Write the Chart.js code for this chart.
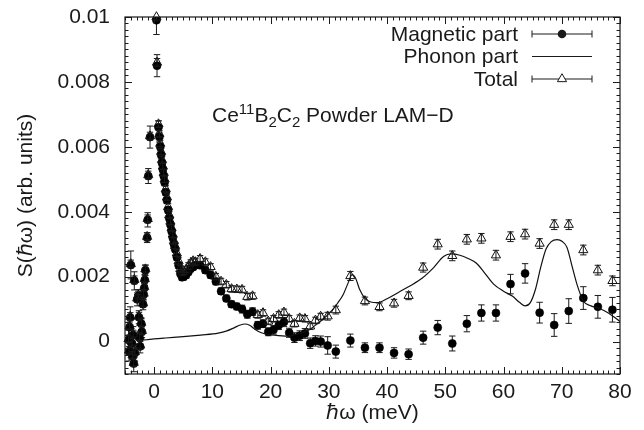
<!DOCTYPE html>
<html>
<head>
<meta charset="utf-8">
<script src="https://cdn.jsdelivr.net/npm/chart.js@4.4.0/dist/chart.umd.min.js"></script>
<style>
  html, body { margin: 0; padding: 0; background: #fff; }
  #wrap { width: 644px; height: 430px; }
</style>
</head>
<body>
<div id="wrap"><canvas id="chart" width="644" height="430"></canvas></div>
<script>
// S(hw) values are written in units of 1e-3
const Y_UNIT = 1e-3;

// energy transfer (meV), shared by the magnetic and total points
const energy = [
  -4.4, -4.3, -4.2, -4.1, -4.0, -3.8, -3.7, -3.6, -3.5, -3.4, -3.3, -2.9, -2.7, -2.6,
  -2.5, -2.4, -2.2, -2.1, -1.9, -1.8, -1.7, -1.6, -1.5, -1.2, -1.1, -1.0, -0.7,
  0.4, 0.5, 0.75, 0.9, 1.05, 1.2, 1.35, 1.5, 1.65, 1.8, 2.0, 2.2, 2.4, 2.6, 2.8, 3.0,
  3.2, 3.4, 3.6, 3.9, 4.2, 4.5, 4.8, 5.1, 5.5, 5.9, 6.3, 6.7,
  7.1, 7.9, 8.8, 9.7, 10.6, 11.5, 12.4, 13.3, 14.2, 15.1, 16.0, 16.9, 17.8, 18.7,
  19.6, 20.5, 21.4, 22.3, 23.2, 24.1, 25.0, 25.9, 26.8, 27.7, 28.6, 29.8,
  31.2, 33.7, 36.2, 38.7, 41.2, 43.7, 46.2, 48.7, 51.2, 53.7, 56.2, 58.7, 61.2, 63.7,
  66.2, 68.7, 71.2, 73.7, 76.2, 78.7
];

const magnetic = [
  0.05, -0.3, 0.45, 0.74, 2.36, -0.05, -0.45, 0.2, -0.68, 1.87, -0.35, 1.3, 1.4, 0.75,
  0.12, -0.15, 0.55, 0.3, 1.15, 1.45, 1.65, 1.9, 2.2, 3.2, 3.75, 5.1, 6.3,
  9.9, 8.5, 6.6, 6.3, 6.0, 5.75, 5.5, 5.3, 5.1, 4.9, 4.6, 4.35, 4.05, 3.8, 3.6, 3.4,
  3.2, 3.0, 2.85, 2.6, 2.35, 2.1, 1.98, 2.0, 2.05, 2.15, 2.25, 2.3,
  2.35, 2.35, 2.2, 2.05, 1.85, 1.55, 1.33, 1.15, 1.08, 1.0, 0.84, 0.92, 0.5, 0.55,
  0.3, 0.36, 0.5, 0.6, 0.27, 0.12, 0.18, 0.25, -0.05, 0.02, 0.0, -0.12,
  -0.31, 0.03, -0.19, -0.19, -0.35, -0.39, 0.12, 0.43, -0.06, 0.55, 0.88, 0.88, 1.77, 2.1,
  0.89, 0.51, 0.94, 1.34, 1.07, 0.98
];

const magneticErr = [
  0.3, 0.3, 0.3, 0.33, 0.43, 0.28, 0.28, 0.26, 0.25, 0.28, 0.25, 0.2, 0.2, 0.2,
  0.2, 0.2, 0.18, 0.18, 0.17, 0.17, 0.16, 0.16, 0.16, 0.15, 0.22, 0.23, 0.34,
  0.44, 0.34, 0.2, 0.15, 0.12, 0.12, 0.1, 0.1, 0.1, 0.1, 0.1, 0.1, 0.1, 0.1, 0.1, 0.1,
  0.1, 0.1, 0.1, 0.1, 0.1, 0.1, 0.1, 0.1, 0.1, 0.1, 0.1, 0.1,
  0.1, 0.1, 0.1, 0.1, 0.1, 0.1, 0.1, 0.1, 0.1, 0.12, 0.12, 0.12, 0.12, 0.12,
  0.12, 0.13, 0.13, 0.14, 0.14, 0.15, 0.15, 0.15, 0.16, 0.16, 0.17, 0.27,
  0.2, 0.2, 0.15, 0.15, 0.16, 0.16, 0.2, 0.22, 0.23, 0.25, 0.25, 0.25, 0.3, 0.3,
  0.32, 0.35, 0.38, 0.35, 0.35, 0.38
];

const total = [
  0.08, -0.27, 0.48, 0.77, 2.39, -0.02, -0.42, 0.23, -0.65, 1.9, -0.32, 1.33, 1.43, 0.78,
  0.15, -0.12, 0.58, 0.33, 1.18, 1.48, 1.68, 1.93, 2.23, 3.23, 3.78, 5.13, 6.33,
  10.0, 8.6, 6.7, 6.4, 6.1, 5.85, 5.6, 5.4, 5.2, 5.0, 4.7, 4.45, 4.15, 3.9, 3.7, 3.5,
  3.3, 3.1, 2.95, 2.72, 2.48, 2.24, 2.13, 2.16, 2.22, 2.33, 2.42, 2.48,
  2.45, 2.55, 2.45, 2.3, 2.0, 1.85, 1.75, 1.62, 1.61, 1.6, 1.38, 1.4, 0.82, 0.88,
  0.62, 0.7, 0.82, 0.9, 0.7, 0.55, 0.72, 0.7, 0.47, 0.65, 0.77, 0.78,
  0.97, 2.02, 1.25, 1.07, 1.18, 1.41, 2.28, 3.0, 2.64, 3.15, 3.18, 2.66, 3.23, 3.31,
  3.02, 3.6, 3.6, 2.82, 2.2, 1.87
];

const totalErr = [
  0.12, 0.12, 0.12, 0.12, 0.12, 0.12, 0.12, 0.12, 0.12, 0.12, 0.12, 0.12, 0.12, 0.12,
  0.12, 0.12, 0.12, 0.12, 0.12, 0.12, 0.12, 0.12, 0.12, 0.12, 0.12, 0.12, 0.12,
  0.12, 0.12, 0.1, 0.1, 0.1, 0.1, 0.1, 0.1, 0.1, 0.1, 0.1, 0.1, 0.1, 0.1, 0.1, 0.1,
  0.1, 0.1, 0.1, 0.1, 0.1, 0.1, 0.1, 0.1, 0.1, 0.1, 0.1, 0.1,
  0.1, 0.1, 0.1, 0.1, 0.1, 0.1, 0.1, 0.1, 0.1, 0.1, 0.1, 0.1, 0.1, 0.1,
  0.1, 0.1, 0.1, 0.1, 0.1, 0.1, 0.1, 0.1, 0.1, 0.1, 0.1, 0.12,
  0.12, 0.14, 0.12, 0.12, 0.12, 0.12, 0.14, 0.15, 0.15, 0.15, 0.15, 0.15, 0.15, 0.15,
  0.15, 0.15, 0.15, 0.15, 0.15, 0.15
];

// calculated phonon contribution
const phononEnergy = [
  -2.5, 0, 2, 5, 8, 11, 12.5, 13.8, 14.8, 15.6, 16.4, 17.3, 18.3, 19.5, 21, 22.5, 24,
  25.5, 26.8, 28, 29.2, 30.5, 31.5, 32.5, 33.3, 34.0, 34.6, 35.3, 36.2, 37.2, 38.3, 40,
  42, 44, 46, 48, 49.7, 51, 52.5, 54, 55.3, 56.6, 58.3, 60, 61.5, 62.8, 63.7, 64.6, 65.5,
  66.4, 67.3, 68.2, 69.2, 70.1, 70.9, 71.8, 72.6, 73.7, 75, 76.5, 78, 80
];
const phonon = [
  0.03, 0.08, 0.11, 0.15, 0.2, 0.26, 0.33, 0.43, 0.51, 0.54, 0.5, 0.38, 0.28, 0.22, 0.19,
  0.17, 0.2, 0.28, 0.38, 0.55, 0.72, 0.95, 1.18, 1.46, 1.8, 2.06, 1.95, 1.6, 1.33, 1.22,
  1.2, 1.32, 1.52, 1.72, 1.95, 2.28, 2.62, 2.7, 2.66, 2.55, 2.42, 2.15, 1.77, 1.55, 1.4,
  1.2, 1.1, 1.2, 1.62, 2.3, 2.85, 3.08, 3.14, 3.08, 2.9, 2.3, 1.77, 1.25, 1.1, 1.02, 0.88,
  0.62
];

const xTicks = [0, 10, 20, 30, 40, 50, 60, 70, 80];
const xTickLabels = ['0', '10', '20', '30', '40', '50', '60', '70', '80'];
const yTicks = [0, 0.002, 0.004, 0.006, 0.008, 0.01];
const yTickLabels = ['0', '0.002', '0.004', '0.006', '0.008', '0.01'];

const seriesLabels = ['Magnetic part', 'Phonon part', 'Total'];

const FONT = '"Liberation Sans", Arial, Helvetica, sans-serif';
const INK = '#1a1a1a';

const toPoints = (xs, ys) => xs.map((x, i) => ({ x: x, y: ys[i] * Y_UNIT }));

// vertical error bars with caps, drawn from the dataset's errors list
function drawErrorBars(chart, ds) {
  const { ctx, chartArea, scales } = chart;
  const cap = 3.2;
  ctx.save();
  ctx.beginPath();
  ctx.rect(chartArea.left, chartArea.top, chartArea.right - chartArea.left, chartArea.bottom - chartArea.top);
  ctx.clip();
  ctx.strokeStyle = INK;
  ctx.lineWidth = 1;
  ctx.beginPath();
  ds.data.forEach((p, i) => {
    const e = ds.errors[i] * Y_UNIT;
    const px = scales.x.getPixelForValue(p.x);
    const lo = scales.y.getPixelForValue(p.y - e);
    const hi = scales.y.getPixelForValue(p.y + e);
    ctx.moveTo(px, lo); ctx.lineTo(px, hi);
    ctx.moveTo(px - cap, lo); ctx.lineTo(px + cap, lo);
    ctx.moveTo(px - cap, hi); ctx.lineTo(px + cap, hi);
  });
  ctx.stroke();
  ctx.restore();
}

const errorBarPlugin = {
  id: 'errorBars',
  beforeDatasetsDraw(chart) {
    const ds = chart.data.datasets[0];
    drawErrorBars(chart, ds);
  },
  afterDatasetsDraw(chart) {
    const ds = chart.data.datasets[2];
    drawErrorBars(chart, ds);
  }
};

// closed frame with inward major/minor ticks on all four sides
const framePlugin = {
  id: 'frame',
  afterDatasetsDraw(chart) {
    const { ctx, chartArea: a, scales: { x, y } } = chart;
    ctx.save();
    ctx.strokeStyle = INK;
    ctx.lineWidth = 1.2;
    ctx.strokeRect(a.left, a.top, a.right - a.left, a.bottom - a.top);
    ctx.lineWidth = 1;
    ctx.beginPath();
    for (let k = -5; k <= 80; k++) {
      const px = Math.round(x.getPixelForValue(k)) + 0.5;
      const len = k % 10 === 0 ? 7 : 3.5;
      ctx.moveTo(px, a.bottom); ctx.lineTo(px, a.bottom - len);
      ctx.moveTo(px, a.top); ctx.lineTo(px, a.top + len);
    }
    for (let k = -5; k <= 50; k++) {
      const py = Math.round(y.getPixelForValue(k * 0.0002)) + 0.5;
      const len = k % 10 === 0 ? 7 : 3.5;
      ctx.moveTo(a.left, py); ctx.lineTo(a.left + len, py);
      ctx.moveTo(a.right, py); ctx.lineTo(a.right - len, py);
    }
    ctx.stroke();
    ctx.restore();
  }
};

// gnuplot-style key (text on the left, sample on the right) and the sample label
const keyPlugin = {
  id: 'key',
  afterDraw(chart) {
    const { ctx } = chart;
    const textRight = 518, x0 = 532, x1 = 592, xm = 562;
    const rows = [34, 56.5, 79];
    ctx.save();
    ctx.fillStyle = INK;
    ctx.strokeStyle = INK;
    ctx.font = '21px ' + FONT;
    ctx.textAlign = 'right';
    ctx.textBaseline = 'middle';
    seriesLabels.forEach((t, i) => ctx.fillText(t, textRight, rows[i] + 1));

    ctx.lineWidth = 1;
    ctx.beginPath();
    [0, 2].forEach((i) => {
      const yy = rows[i];
      ctx.moveTo(x0, yy); ctx.lineTo(x1, yy);
      ctx.moveTo(x0, yy - 3.5); ctx.lineTo(x0, yy + 3.5);
      ctx.moveTo(x1, yy - 3.5); ctx.lineTo(x1, yy + 3.5);
    });
    ctx.stroke();
    ctx.lineWidth = 1.2;
    ctx.beginPath();
    ctx.moveTo(x0, rows[1]); ctx.lineTo(x1, rows[1]);
    ctx.stroke();

    ctx.beginPath();
    ctx.arc(xm, rows[0], 4.3, 0, Math.PI * 2);
    ctx.fill();

    const r = 5.3, ty = rows[2];
    ctx.fillStyle = '#fff';
    ctx.lineWidth = 1;
    ctx.beginPath();
    ctx.moveTo(xm, ty - r);
    ctx.lineTo(xm + r * Math.sin(2 * Math.PI / 3), ty - r * Math.cos(2 * Math.PI / 3));
    ctx.lineTo(xm + r * Math.sin(4 * Math.PI / 3), ty - r * Math.cos(4 * Math.PI / 3));
    ctx.closePath();
    ctx.fill();
    ctx.stroke();

    // Ce11B2C2 Powder LAM-D
    ctx.fillStyle = INK;
    ctx.textAlign = 'left';
    ctx.textBaseline = 'alphabetic';
    const base = 122;
    const parts = [
      ['Ce', 21, 0], ['11', 15, -8], ['B', 21, 0], ['2', 15, 5], ['C', 21, 0], ['2', 15, 5],
      [' Powder LAM\u2212D', 21, 0]
    ];
    let cx = 212;
    parts.forEach(([s, size, dy]) => {
      ctx.font = size + 'px ' + FONT;
      ctx.fillText(s, cx, base + dy);
      cx += ctx.measureText(s).width;
    });
    ctx.restore();
  }
};

// keep the plot box fixed: no extra room for overhanging end labels
function fixBox(scale, key, size) {
  scale[key] = size;
  scale.paddingTop = 0;
  scale.paddingBottom = 0;
  scale.paddingLeft = 0;
  scale.paddingRight = 0;
}

new Chart(document.getElementById('chart'), {
  type: 'scatter',
  data: {
    datasets: [
      {
        label: seriesLabels[0],
        data: toPoints(energy, magnetic),
        errors: magneticErr,
        pointStyle: 'circle',
        pointRadius: 4,
        pointBorderWidth: 0.6,
        backgroundColor: '#000',
        borderColor: '#000',
        order: 3
      },
      {
        label: seriesLabels[1],
        data: toPoints(phononEnergy, phonon),
        showLine: true,
        cubicInterpolationMode: 'monotone',
        pointRadius: 0,
        borderColor: '#111',
        borderWidth: 1.2,
        order: 2
      },
      {
        label: seriesLabels[2],
        data: toPoints(energy, total),
        errors: totalErr,
        pointStyle: 'triangle',
        pointRadius: 5.3,
        pointBorderWidth: 1,
        backgroundColor: 'rgba(255,255,255,0)',
        borderColor: '#111',
        clip: 8,
        order: 1
      }
    ]
  },
  options: {
    responsive: false,
    animation: false,
    devicePixelRatio: 1,
    layout: { padding: { top: 17, right: 24, left: 0, bottom: 0 } },
    plugins: { legend: { display: false }, tooltip: { enabled: false } },
    scales: {
      x: {
        type: 'linear',
        min: -5,
        max: 80,
        afterBuildTicks: (scale) => { scale.ticks = xTicks.map((v) => ({ value: v })); },
        afterFit: (scale) => fixBox(scale, 'height', 56),
        grid: { display: false, drawTicks: false },
        border: { display: false },
        ticks: {
          padding: 6,
          color: INK,
          maxRotation: 0,
          font: { family: FONT, size: 21 },
          callback: (v) => xTickLabels[xTicks.indexOf(v)]
        },
        title: {
          display: true,
          text: '\u210F\u03C9 (meV)',
          color: INK,
          font: { family: FONT, size: 21 },
          padding: { top: 0, bottom: 4 }
        }
      },
      y: {
        type: 'linear',
        min: -0.001,
        max: 0.01,
        afterBuildTicks: (scale) => { scale.ticks = yTicks.map((v) => ({ value: v })); },
        afterFit: (scale) => fixBox(scale, 'width', 125),
        grid: { display: false, drawTicks: false },
        border: { display: false },
        ticks: {
          padding: 15,
          color: INK,
          font: { family: FONT, size: 21 },
          callback: (v) => yTickLabels[yTicks.indexOf(v)]
        },
        title: {
          display: true,
          text: 'S(\u210F\u03C9) (arb. units)',
          color: INK,
          font: { family: FONT, size: 21 },
          padding: { top: 14, bottom: 0 }
        }
      }
    }
  },
  plugins: [errorBarPlugin, framePlugin, keyPlugin]
});
</script>
</body>
</html>
